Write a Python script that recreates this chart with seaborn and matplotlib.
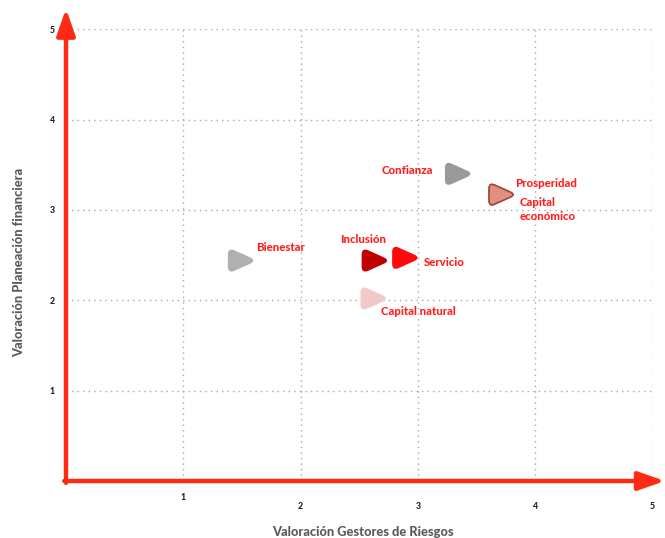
import matplotlib
matplotlib.use("Agg")
import matplotlib.pyplot as plt
import numpy as np
import pandas as pd
import seaborn as sns
from matplotlib.path import Path
from matplotlib.transforms import ScaledTranslation

# Valoración por tema: gestores de riesgos (x) vs. planeación financiera (y)
temas = ["Bienestar", "Inclusión", "Servicio", "Capital natural",
         "Confianza", "Prosperidad", "Capital económico"]
gestores = [1.50, 2.64, 2.90, 2.63, 3.35, 3.72, 3.72]
planeacion = [2.44, 2.44, 2.47, 2.02, 3.40, 3.17, 3.17]
ticks = [1, 2, 3, 4, 5]
tick_labels = ["1", "2", "3", "4", "5"]

relleno = {
    "Bienestar": "#b0b0b0",
    "Inclusión": "#c00000",
    "Servicio": "#ff0a0a",
    "Capital natural": "#f2c9c9",
    "Confianza": "#9a9a9a",
    "Prosperidad": "#e0907f",
    "Capital económico": "#e0907f",
}
borde = dict(relleno)
borde["Prosperidad"] = "#a0463a"
borde["Capital económico"] = "#a0463a"

# label placement (offset in points from the marker, alignment)
etiquetas = {
    "Bienestar": ("Bienestar", (10, 9.4), "left"),
    "Inclusión": ("Inclusión", (-9.4, 15.1), "center"),
    "Servicio": ("Servicio", (13, -3.6), "left"),
    "Capital natural": ("Capital natural", (4.3, -9.4), "left"),
    "Confianza": ("Confianza", (-18.7, 2.2), "right"),
    "Prosperidad": ("Prosperidad", (9.4, 7.9), "left"),
    "Capital económico": ("Capital\neconómico", (12.2, -10.8), "left"),
}


def triangulo_redondeado(esquinas, d):
    """Closed polygon path whose corners are rounded with quadratic curves."""
    esquinas = np.asarray(esquinas, float)
    n = len(esquinas)
    verts, codes = [], []
    for i in range(n):
        v = esquinas[i]
        prev_ = esquinas[i - 1]
        next_ = esquinas[(i + 1) % n]
        a = v + (prev_ - v) / np.linalg.norm(prev_ - v) * d
        b = v + (next_ - v) / np.linalg.norm(next_ - v) * d
        verts.append(a)
        codes.append(Path.MOVETO if i == 0 else Path.LINETO)
        verts += [v, b]
        codes += [Path.CURVE3, Path.CURVE3]
    verts.append(verts[0])
    codes.append(Path.CLOSEPOLY)
    return Path(np.array(verts), codes)


sns.set_theme(style="white")
plt.rcParams["font.family"] = ["Lato", "DejaVu Sans"]

df = pd.DataFrame({"tema": temas, "gestores": gestores, "planeacion": planeacion})

fig = plt.figure(figsize=(6.65, 5.38), dpi=100)
ax = fig.add_axes([66 / 665, 57 / 538, 587 / 665, 452 / 538])

flecha = triangulo_redondeado([(-1, 0.9), (1, 0), (-1, -0.9)], 0.45)

sns.scatterplot(data=df, x="gestores", y="planeacion", hue="tema",
                palette=relleno, marker=flecha, s=370, linewidth=1.1,
                legend=False, ax=ax, zorder=4)
coll = ax.collections[0]
coll.set_edgecolors([borde[t] for t in df["tema"]])

rojo_txt = "#ff1f1f"
for t, gx, py in zip(temas, gestores, planeacion):
    texto, off, ha = etiquetas[t]
    ax.annotate(texto, xy=(gx, py), xytext=off, textcoords="offset points",
                ha=ha, va="center", color=rojo_txt, fontweight="black",
                fontsize=8.2, linespacing=1.3, zorder=5)

ax.set_xlim(0, 5.003)
ax.set_ylim(0, 5.003)
ax.set_xticks(ticks)
ax.set_xticklabels(tick_labels)
ax.set_yticks(ticks)
ax.set_yticklabels(tick_labels)
ax.grid(True, linestyle=(0, (1, 3)), color="#a8a8a8", linewidth=1.0)
for s in ax.spines.values():
    s.set_visible(False)
ax.tick_params(axis="both", length=0, labelsize=6.3, labelcolor="#222222")
ax.tick_params(axis="x", pad=15)
ax.tick_params(axis="y", pad=8)
for lab in ax.get_xticklabels() + ax.get_yticklabels():
    lab.set_fontweight("black")
# first x tick label sits a little higher
primero = ax.get_xticklabels()[0]
primero.set_transform(primero.get_transform()
                      + ScaledTranslation(0, 9 / 100, fig.dpi_scale_trans))

ax.set_xlabel("Valoración Gestores de Riesgos", fontsize=9.3,
              fontweight="black", color="#5a5a5a", va="center")
ax.xaxis.set_label_coords(0.506, -0.113)
ax.set_ylabel("Valoración Planeación financiera", fontsize=9.3,
              fontweight="black", color="#5a5a5a", va="center")
ax.yaxis.set_label_coords(-0.080, 0.4845)

# red axis arrows
rojo = "#ff2a14"
props = dict(arrowstyle="-|>,head_length=0.8,head_width=0.28", color=rojo,
             lw=3.2, shrinkA=0, shrinkB=0, mutation_scale=20)
ax.annotate("", xy=(0, 1.045), xytext=(0, -0.004), xycoords="axes fraction",
            arrowprops=props, annotation_clip=False, zorder=6)
ax.annotate("", xy=(1.0204, 0), xytext=(-0.003, 0), xycoords="axes fraction",
            arrowprops=props, annotation_clip=False, zorder=6)

fig.savefig("out.png", dpi=100)
